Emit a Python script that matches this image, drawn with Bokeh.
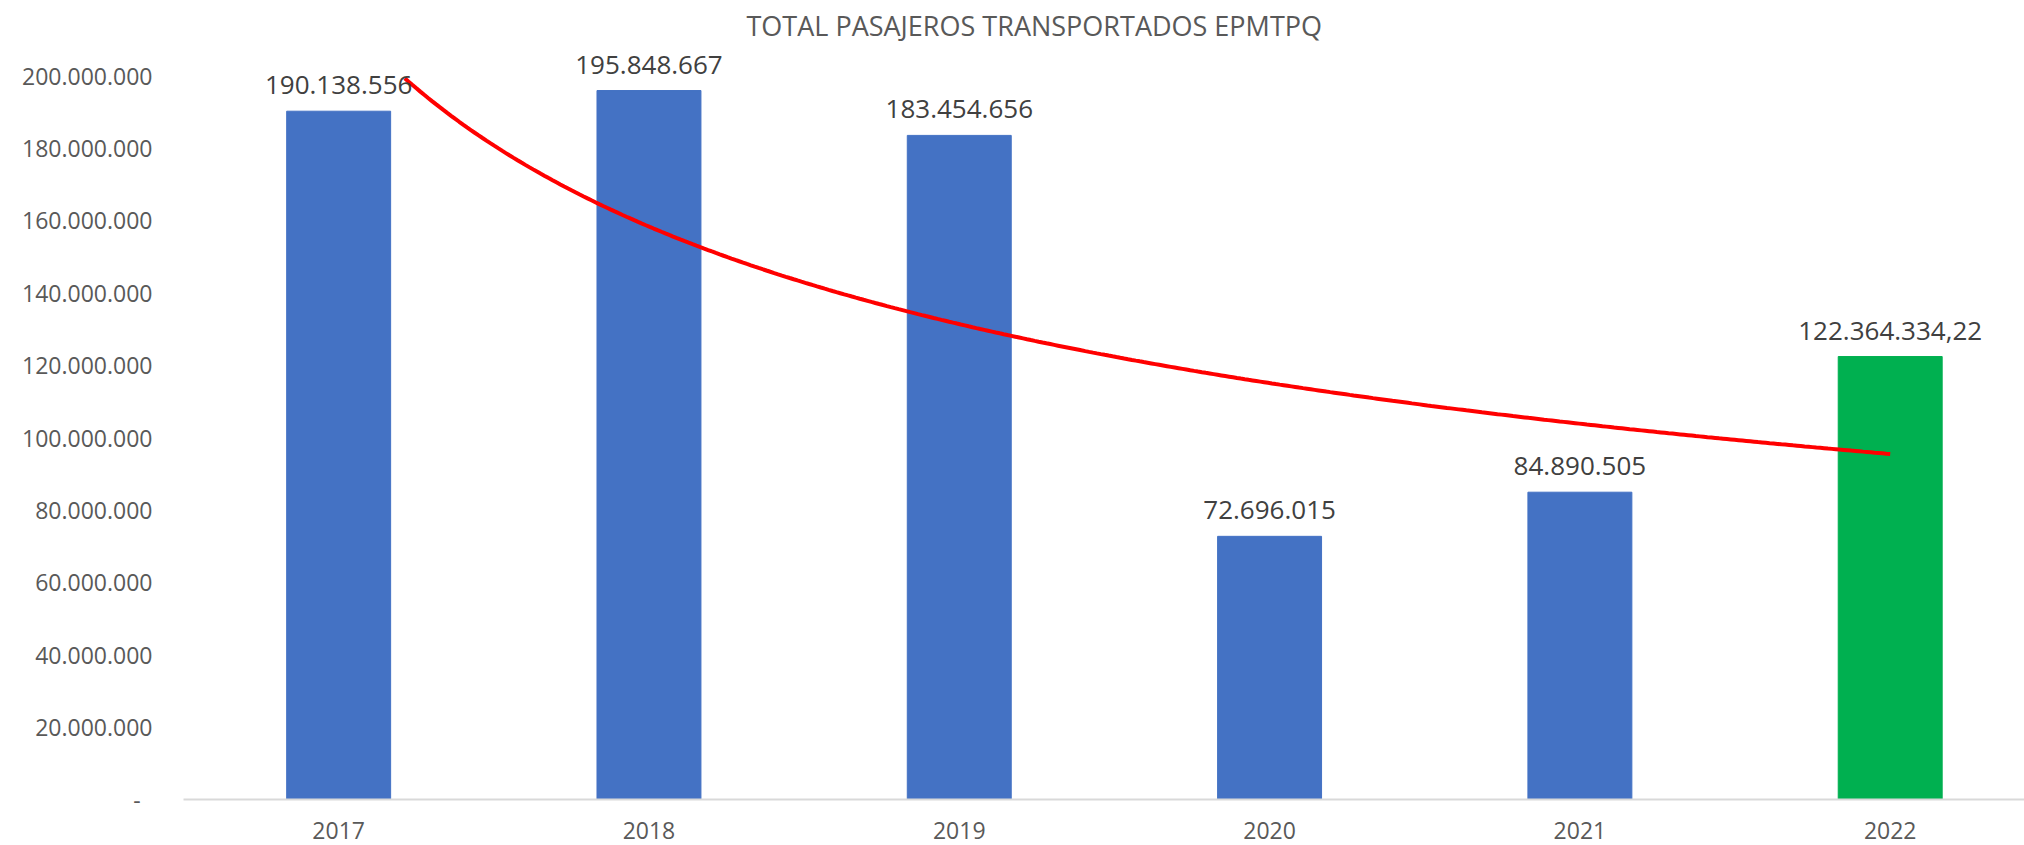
import numpy as np
from bokeh.plotting import figure
from bokeh.models import Range1d, FixedTicker, ColumnDataSource
from bokeh.core.properties import value
from bokeh.embed import file_html
from bokeh.resources import INLINE

# ---------------- data ----------------
years = ["2017", "2018", "2019", "2020", "2021", "2022"]
passengers = [190138556, 195848667, 183454656, 72696015, 84890505, 122364334.22]
bar_labels = ["190.138.556", "195.848.667", "183.454.656", "72.696.015", "84.890.505", "122.364.334,22"]
bar_colors = ["#4472C4", "#4472C4", "#4472C4", "#4472C4", "#4472C4", "#00B050"]
y_ticks = [0, 20000000, 40000000, 60000000, 80000000, 100000000,
           120000000, 140000000, 160000000, 180000000, 200000000]
y_tick_labels = ["-\u00a0\u00a0", "20.000.000", "40.000.000", "60.000.000", "80.000.000",
                 "100.000.000", "120.000.000", "140.000.000", "160.000.000",
                 "180.000.000", "200.000.000"]
title_text = "TOTAL PASAJEROS TRANSPORTADOS EPMTPQ"
axis_max = 200000000

# ---------------- layout ----------------
W, H = 2024, 845
frame_left = 183
frame_top = 45
frame_bottom = 799
px_200 = 75
y_end = axis_max * (frame_bottom - frame_top) / (frame_bottom - px_200)
x_end = 5.4328

xpos = list(range(len(years)))

p = figure(width=W, height=H, output_backend="svg", toolbar_location=None,
           x_range=Range1d(-0.5, x_end), y_range=Range1d(0, y_end),
           min_border_left=frame_left, min_border_right=0, min_border_top=frame_top,
           min_border_bottom=H - frame_bottom, title=title_text)
p.outline_line_color = None
p.background_fill_color = "white"
p.border_fill_color = "white"
p.xgrid.visible = False
p.ygrid.visible = False

p.title.align = "left"
p.title.offset = 746 - frame_left
p.title.text_font = "Open Sans"
p.title.text_font_size = "27px"
p.title.text_font_style = "normal"
p.title.text_color = "#595959"
p.title.standoff = 4

src = ColumnDataSource(dict(x=xpos, top=passengers, color=bar_colors, label=bar_labels))
p.vbar(x="x", top="top", width=0.335, color="color", source=src)

# power trendline fitted to the bar values (Excel-style), clipped at the axis maximum
idx = np.arange(1, len(passengers) + 1)
b, lnc = np.polyfit(np.log(idx), np.log(passengers), 1)
tx = np.linspace(1, len(passengers), 400)
ty = np.exp(lnc) * tx ** b
keep = ty <= axis_max
p.line(tx[keep] - 1, ty[keep], line_color="#FF0000", line_width=4)

p.text(x="x", y="top", text="label", source=src, text_align="center",
       text_baseline="alphabetic", y_offset=-26, text_font=value("Open Sans"),
       text_font_size="26px", text_color="#404040")

# axes
xa = p.xaxis[0]
xa.ticker = FixedTicker(ticks=xpos)
xa.major_label_overrides = {i: y for i, y in zip(xpos, years)}
xa.axis_line_color = "#D9D9D9"
xa.axis_line_width = 2
xa.major_tick_line_color = None
xa.minor_tick_line_color = None
xa.major_tick_out = 0
xa.major_label_standoff = 22
xa.major_label_text_font = "Open Sans"
xa.major_label_text_font_size = "23px"
xa.major_label_text_color = "#595959"

ya = p.yaxis[0]
ya.ticker = FixedTicker(ticks=y_ticks)
ya.major_label_overrides = {t: l for t, l in zip(y_ticks, y_tick_labels)}
ya.axis_line_color = None
ya.major_tick_line_color = None
ya.minor_tick_line_color = None
ya.major_tick_out = 0
ya.major_label_standoff = 31
ya.major_label_text_font = "Open Sans"
ya.major_label_text_font_size = "23px"
ya.major_label_text_color = "#595959"

open("out.html", "w").write(file_html(p, INLINE))
